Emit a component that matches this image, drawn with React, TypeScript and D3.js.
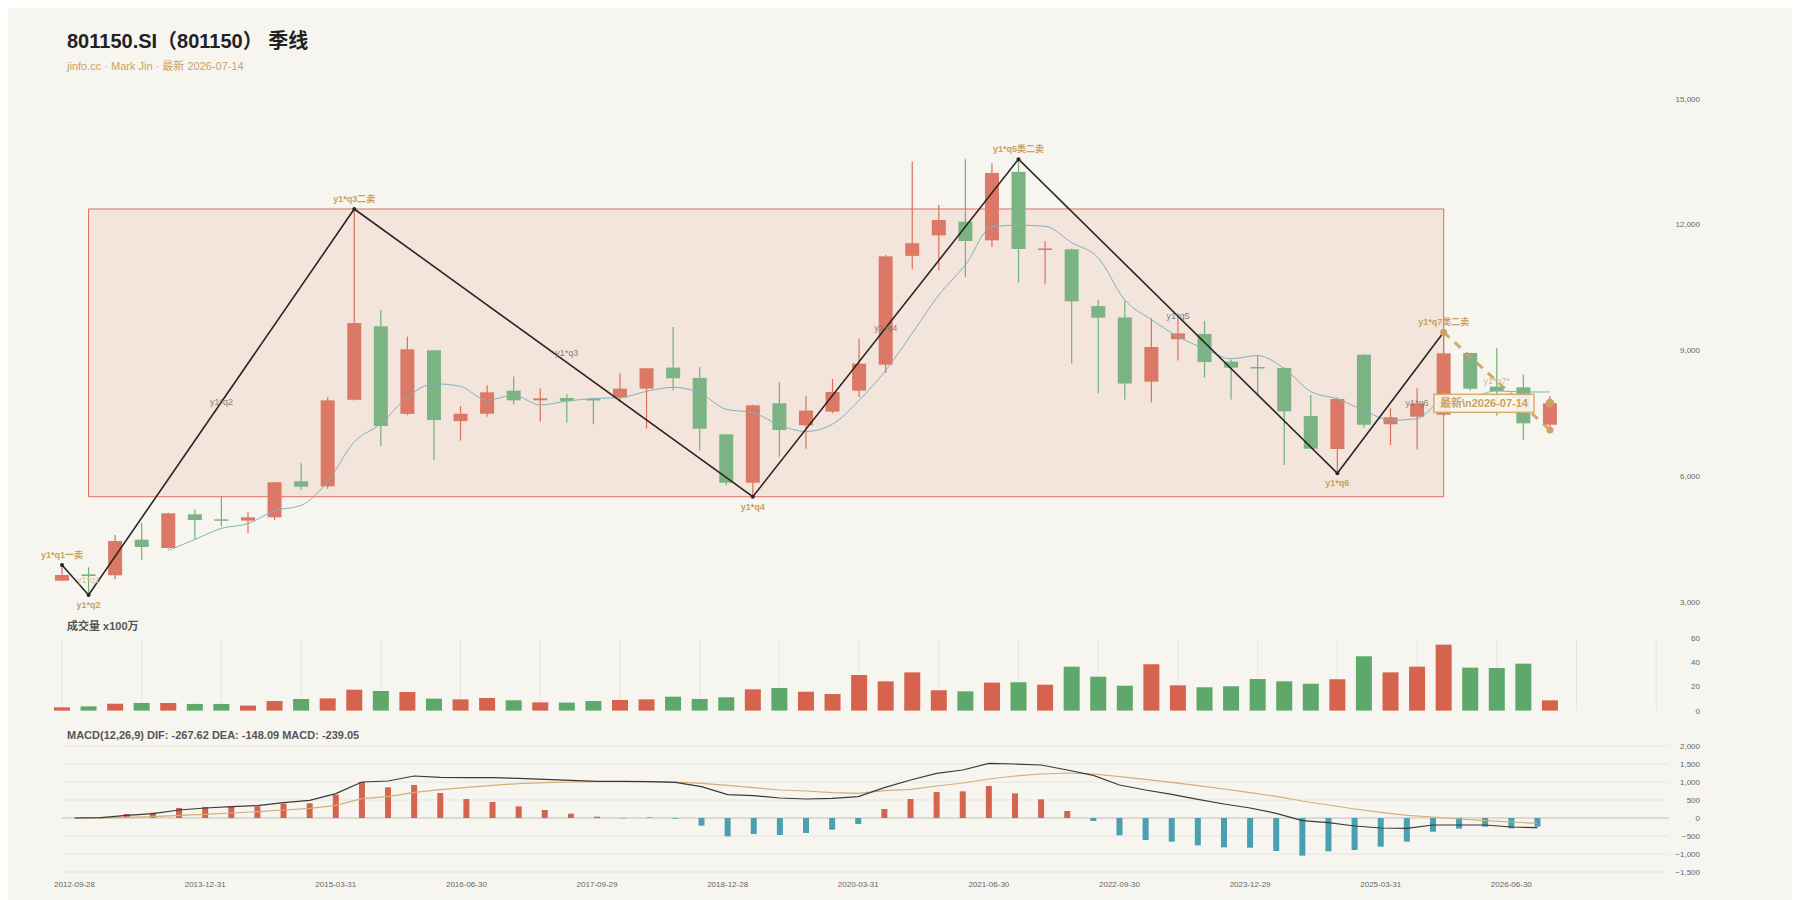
import React, { useEffect } from 'react'
import * as d3 from 'd3'

const W = 1784
const H = 892
const FONT = "'Liberation Sans', Arial, 'Noto Sans CJK SC', sans-serif"

// x tick labels, one every 5 quarters
const tickLabels = [
  '2012-09-28', '2013-12-31', '2015-03-31', '2016-06-30', '2017-09-29', '2018-12-28',
  '2020-03-31', '2021-06-30', '2022-09-30', '2023-12-29', '2025-03-31', '2026-06-30'
]

// quarterly OHLC
const open = [
  3496, 3649, 3625, 4474, 4277, 5080, 4961, 4929, 5008, 5867,
  5748, 7812, 9566, 7476, 8992, 7303, 7479, 8030, 7799, 7854,
  7831, 7870, 8078, 8580, 8333, 6988, 5834, 7728, 7204, 7531,
  8030, 8650, 11245, 11736, 12061, 11617, 13249, 11394, 11402, 10047,
  9776, 8245, 9255, 9382, 8722, 8595, 8572, 7426, 6638, 8888,
  7228, 7409, 7457, 8929, 8126, 8110, 7217
]
const high = [
  3870, 3816, 4587, 4880, 5119, 5199, 5517, 5136, 5848, 6297,
  7871, 12364, 9954, 9318, 9000, 7664, 8157, 8365, 8079, 7943,
  7840, 8444, 8570, 9549, 8588, 6994, 7691, 8229, 7895, 8308,
  9271, 11266, 13495, 12468, 13553, 13456, 13553, 11601, 11413, 10193,
  10169, 9760, 9816, 9689, 8776, 8864, 8579, 7926, 7871, 8897,
  7609, 8086, 9423, 8934, 9048, 8411, 7903
]
const low = [
  3482, 3155, 3529, 3990, 4258, 4484, 4785, 4627, 4944, 5660,
  5684, 7794, 6710, 7443, 6376, 6837, 7409, 7704, 7289, 7266,
  7226, 7760, 7123, 8038, 6601, 5772, 5500, 6454, 6645, 7491,
  7871, 8451, 10932, 10900, 10749, 11458, 10614, 10567, 8675, 7967,
  7820, 7752, 8747, 8346, 7820, 7903, 6256, 6634, 6059, 7146,
  6734, 6631, 7401, 8030, 7433, 6853, 7091
]
const close = [
  3632, 3608, 4444, 4300, 5104, 4944, 4929, 5008, 5844, 5740,
  7799, 9642, 7188, 9017, 7328, 7479, 7990, 7799, 7847, 7783,
  7799, 8078, 8564, 8327, 7123, 5834, 7680, 7092, 7555, 7998,
  8675, 11234, 11548, 12101, 11600, 13225, 11410, 11422, 10162, 9769,
  8201, 9072, 9398, 8714, 8579, 8572, 7536, 6645, 7831, 7217,
  7394, 7728, 8920, 8078, 8014, 7251, 7728
]
// volume, x100万
const volume = [
  2.7, 3.5, 5.7, 6.3, 6.3, 5.5, 5.5, 4.1, 7.9, 9.6,
  10.1, 17.3, 16.2, 15.4, 9.9, 9.3, 10.4, 8.5, 6.8, 6.6,
  7.9, 8.8, 9.3, 11.5, 9.6, 11.0, 17.6, 18.7, 15.6, 13.7,
  29.4, 24.2, 31.6, 16.8, 15.9, 23.1, 23.4, 21.4, 36.3, 28.0,
  20.6, 38.3, 20.9, 19.3, 20.1, 26.1, 24.2, 22.2, 25.9, 44.9,
  31.6, 36.3, 54.5, 35.5, 35.2, 38.8, 8.5
]
// MACD(12,26,9)
const dif = [
  0, 10, 74, 120, 222, 278, 315, 343, 426, 491,
  676, 1000, 1028, 1167, 1130, 1120, 1120, 1102, 1074, 1046,
  1019, 1019, 1009, 991, 870, 648, 620, 556, 528, 546,
  593, 843, 1056, 1241, 1333, 1519, 1500, 1472, 1333, 1185,
  917, 778, 657, 519, 389, 278, 130, -74, -130, -222,
  -278, -287, -194, -194, -194, -250, -268
]
const dea = [
  0, 0, 18, 37, 74, 102, 139, 176, 222, 268,
  352, 537, 593, 713, 787, 852, 907, 954, 981, 1000,
  1009, 1009, 1009, 1000, 963, 907, 843, 778, 750, 704,
  685, 759, 796, 889, 972, 1083, 1167, 1222, 1250, 1222,
  1148, 1074, 991, 898, 806, 704, 602, 472, 361, 250,
  157, 74, 28, -28, -74, -111, -148
]
const hist = [
  0, 20, 111, 148, 278, 306, 315, 324, 398, 407,
  648, 1000, 852, 917, 694, 528, 444, 324, 222, 120,
  37, -10, 15, -20, -213, -509, -444, -472, -417, -324,
  -167, 250, 528, 722, 741, 889, 685, 519, 194, -83,
  -481, -611, -657, -759, -815, -824, -917, -1046, -926, -889,
  -796, -657, -380, -296, -241, -287, -239
]

// zigzag pivots
const pivotIdx = [0, 1, 11, 26, 36, 48, 52]
const pivotHigh = [true, false, true, false, true, false, true]
const pivotLabels = ['y1*q1一卖', 'y1*q2', 'y1*q3二卖', 'y1*q4', 'y1*q5类二卖', 'y1*q6', 'y1*q7类二卖']
const segLabels = ['y1*q1', 'y1*q2', 'y1*q3', 'y1*q4', 'y1*q5', 'y1*q6']
const segLabelIdx = [1, 6, 19, 31, 42, 51]
const projIdx = 56
const projValue = 7091
const projLabel = 'y1*q7*'
const projLabelIdx = 54
const latestText = '最新\\n2026-07-14'

const priceTicks = [3000, 6000, 9000, 12000, 15000]
const volTicks = [0, 20, 40, 60]
const macdTicks = [-1500, -1000, -500, 0, 500, 1000, 1500, 2000]

const UP = '#dc7966'
const UP_WICK = '#df6f5b'
const DOWN = '#7bb482'
const DOWN_WICK = '#6cb477'
const GOLD = '#c9a264'

const App = () => {
  useEffect(() => {
    document.documentElement.style.overflow = 'hidden'
  }, [])

  const N = close.length
  const slots = d3.range(61)
  // all positions below are page coordinates; the group shifts them by the body margin
  const x = d3.scaleBand<number>().domain(slots).range([48.7, 1669.5])
  const cx = (i: number) => (x(i) as number) + x.bandwidth() / 2
  const xm = d3.scaleBand<number>().domain(slots).range([61.5, 1655])
  const cxm = (i: number) => (xm(i) as number) + xm.bandwidth() / 2

  const y = d3.scaleLinear().domain([3000, 15000]).range([601.5, 98.5])
  const yv = d3.scaleLinear().domain([0, 60]).range([710.6, 638])
  const ym = d3.scaleLinear().domain([-1500, 2000]).range([872, 746])
  const fmt = d3.format(',')

  const ma5 = close.map((c, i) => (i < 4 ? null : (d3.mean(close.slice(i - 4, i + 1)) as number)))
  const maLine = d3
    .line<number | null>()
    .defined(d => d != null)
    .x((d, i) => cx(i))
    .y(d => y(d as number))
    .curve(d3.curveMonotoneX)

  const pivots = pivotIdx.map((p, k) => ({
    x: cx(p),
    y: y(pivotHigh[k] ? high[p] : low[p]),
    high: pivotHigh[k],
    label: pivotLabels[k]
  }))
  const zig = d3.line<{ x: number; y: number }>().x(d => d.x).y(d => d.y)

  const boxTop = y(high[pivotIdx[2]])
  const boxBottom = y(low[pivotIdx[3]])
  const boxLeft = cx(pivotIdx[1])
  const boxRight = cx(pivotIdx[6])

  const macdLine = d3.line<number>().x((d, i) => cxm(i)).y(d => ym(d))

  const last = pivots[pivots.length - 1]
  const projX = cx(projIdx)
  const projY = y(projValue)
  const latestX = cx(N - 1) - 66
  const latestY = y(close[N - 1])

  return (
    <svg width={W} height={H} style={{ display: 'block', fontFamily: FONT }}>
      <rect x={0} y={0} width={W} height={H} fill="#f7f5f0" />
      <g transform="translate(-8,-8)">
        <text x={67} y={48} fontSize={20} fontWeight="bold" fill="#222">801150.SI（801150） 季线</text>
        <text x={67} y={70} fontSize={11} fill={GOLD}>jinfo.cc · Mark Jin · 最新 2026-07-14</text>

        {/* price axis */}
        {priceTicks.map(t => (
          <text key={t} x={1700} y={y(t) + 3} textAnchor="end" fontSize={8} fill="#666">{fmt(t)}</text>
        ))}

        {/* zone box */}
        <rect x={boxLeft} y={boxTop} width={boxRight - boxLeft} height={boxBottom - boxTop}
          fill="#f3e4dc" stroke="#e0705e" strokeWidth={1} />

        {/* candles */}
        {close.map((c, i) => {
          const o = open[i]
          const up = c >= o
          const top = y(Math.max(o, c))
          const bot = y(Math.min(o, c))
          return (
            <g key={i}>
              <line x1={cx(i)} x2={cx(i)} y1={y(high[i])} y2={y(low[i])} stroke={up ? UP_WICK : DOWN_WICK} strokeWidth={1.2} />
              <rect x={cx(i) - 7} y={top} width={14} height={Math.max(1.5, bot - top)} fill={up ? UP : DOWN} />
            </g>
          )
        })}

        {/* MA */}
        <path d={maLine(ma5) || ''} fill="none" stroke="#7fb3bf" strokeWidth={1} />

        {/* zigzag */}
        <path d={zig(pivots) || ''} fill="none" stroke="#2b2624" strokeWidth={1.6} />
        {pivots.map((p, k) => (
          <circle key={k} cx={p.x} cy={p.y} r={2} fill="#2b2624" />
        ))}
        {pivots.map((p, k) => (
          <text key={k} x={p.x} y={p.high ? p.y - 7 : p.y + 13} textAnchor="middle" fontSize={9} fontWeight="bold" fill={GOLD}>{p.label}</text>
        ))}
        {segLabels.map((s, k) => (
          <text key={k} x={cx(segLabelIdx[k])} y={(pivots[k].y + pivots[k + 1].y) / 2 + 3} textAnchor="middle" fontSize={9}
            fill={k === 0 ? '#d8bd8c' : '#777'} opacity={0.9}>{s}</text>
        ))}

        {/* projection */}
        <line x1={last.x} y1={last.y} x2={projX} y2={projY} stroke={GOLD} strokeWidth={3} strokeDasharray="8 7" opacity={0.9} />
        <circle cx={last.x} cy={last.y} r={3.5} fill={GOLD} />
        <circle cx={projX} cy={projY} r={3.5} fill={GOLD} />
        <circle cx={cx(N - 1)} cy={latestY} r={4.5} fill={GOLD} />
        <text x={cx(projLabelIdx)} y={(last.y + projY) / 2 + 3} textAnchor="middle" fontSize={9} fill="#d4b888">{projLabel}</text>
        <rect x={latestX - 50} y={latestY - 9} width={100} height={18} fill="#f8f5ee" fillOpacity={0.92} stroke="#d6ae6c" strokeWidth={1.5} />
        <text x={latestX} y={latestY + 4} textAnchor="middle" fontSize={11} fontWeight="bold" fill={GOLD}>{latestText}</text>

        {/* volume */}
        <text x={67} y={629.5} fontSize={11} fontWeight="bold" fill="#555">成交量 x100万</text>
        {slots.filter(i => i % 3 === 0).map(i => (
          <line key={i} x1={cx(i)} x2={cx(i)} y1={638} y2={yv(0)} stroke="#e8e5de" strokeWidth={1} />
        ))}
        {volume.map((v, i) => (
          <rect key={i} x={cx(i) - 8} y={yv(v)} width={16} height={yv(0) - yv(v)} fill={close[i] >= open[i] ? '#d5634e' : '#5fa86b'} />
        ))}
        {volTicks.map(t => (
          <text key={t} x={1700} y={yv(t) + 3} textAnchor="end" fontSize={8} fill="#666">{t}</text>
        ))}

        {/* MACD */}
        <text x={67} y={738.5} fontSize={11} fontWeight="bold" fill="#555">
          MACD(12,26,9) DIF: -267.62 DEA: -148.09 MACD: -239.05
        </text>
        {macdTicks.map(t => (
          <line key={t} x1={62} x2={1669} y1={ym(t)} y2={ym(t)} stroke={t === 0 ? '#dcdad4' : '#e8e5de'} strokeWidth={t === 0 ? 2 : 1} />
        ))}
        {macdTicks.map(t => (
          <text key={t} x={1700} y={ym(t) + 3} textAnchor="end" fontSize={8} fill="#666">{fmt(t)}</text>
        ))}
        {hist.map((h, i) => (
          <rect key={i} x={cxm(i) - 3} y={Math.min(ym(h), ym(0))} width={6} height={Math.abs(ym(h) - ym(0))}
            fill={h >= 0 ? '#d5634e' : '#4a9fb0'} />
        ))}
        <path d={macdLine(dea) || ''} fill="none" stroke="#d4ad78" strokeWidth={1.2} />
        <path d={macdLine(dif) || ''} fill="none" stroke="#3a3a3a" strokeWidth={1.2} />

        {tickLabels.map((t, k) => (
          <text key={t} x={cxm(k * 5)} y={887} textAnchor="middle" fontSize={8} fill="#666">{t}</text>
        ))}
      </g>
    </svg>
  )
}

export default App
